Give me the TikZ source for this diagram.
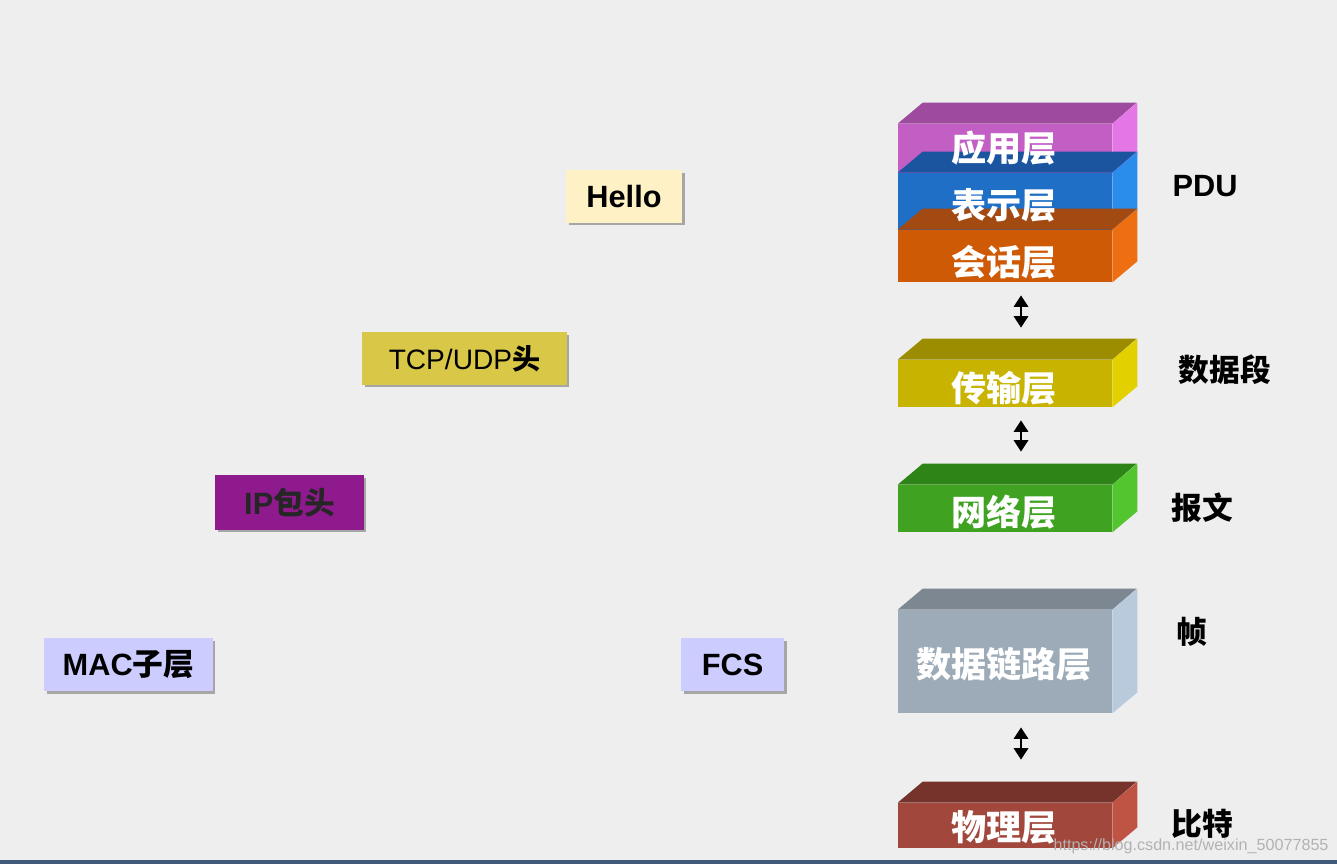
\documentclass[tikz,border=0pt]{standalone}
\usepackage{fontspec}
\setmainfont{Liberation Sans}
\newfontfamily\cjk{Noto Sans CJK SC}
\usetikzlibrary{arrows.meta, shadows}
\definecolor{bggray}{RGB}{238,238,238}
\definecolor{stripblue}{RGB}{64,88,122}
\definecolor{appF}{RGB}{194,94,196}
\definecolor{appT}{RGB}{158,74,158}
\definecolor{appS}{RGB}{228,118,230}
\definecolor{presF}{RGB}{31,111,198}
\definecolor{presT}{RGB}{27,85,160}
\definecolor{presS}{RGB}{42,140,235}
\definecolor{sessF}{RGB}{207,90,5}
\definecolor{sessT}{RGB}{163,74,18}
\definecolor{sessS}{RGB}{238,110,18}
\definecolor{transF}{RGB}{199,179,0}
\definecolor{transT}{RGB}{156,140,0}
\definecolor{transS}{RGB}{226,208,0}
\definecolor{netF}{RGB}{63,163,33}
\definecolor{netT}{RGB}{47,132,24}
\definecolor{netS}{RGB}{82,197,47}
\definecolor{linkF}{RGB}{157,171,184}
\definecolor{linkT}{RGB}{124,135,146}
\definecolor{linkS}{RGB}{184,202,220}
\definecolor{physF}{RGB}{161,71,59}
\definecolor{physT}{RGB}{118,51,43}
\definecolor{physS}{RGB}{191,84,69}
\definecolor{hellofill}{RGB}{255,241,198}
\definecolor{tcpfill}{RGB}{217,200,72}
\definecolor{ipfill}{RGB}{142,26,142}
\definecolor{macfill}{RGB}{204,204,255}
\tikzset{
  face/.style={rectangle, inner sep=0pt, minimum width=4.28cm},
  layertext/.style={text=white, font=\cjk\bfseries\fontsize{20}{24}\selectfont},
  pdulabel/.style={text=black, font=\cjk\bfseries\fontsize{17.5}{20}\selectfont},
  tag/.style={rectangle, inner sep=0pt, minimum height=1.06cm,
    font=\bfseries\fontsize{17.5}{20}\selectfont,
    drop shadow={shadow xshift=0.05cm, shadow yshift=-0.05cm, fill=black, opacity=0.3}},
  updown/.style={{Triangle[width=8pt,length=6.5pt]}-{Triangle[width=8pt,length=6.5pt]},
    line width=1.5pt, black}
}
\begin{document}
\begin{tikzpicture}[x=0.02cm, y=-0.02cm]
  \fill[bggray] (0,0) rectangle (1337,864);
  \fill[stripblue] (0,860) rectangle (1337,864);

  % layer blocks: front face, top face, side face
  \foreach \nm/\cy/\ht in {app/150/52, pres/202/58, sess/256/52,
      trans/383.5/47, net/508.5/47, link/661.5/103, phys/825.5/45}
  {
    \node[face, fill=\nm F, minimum height=\ht*0.02cm] (\nm) at (1005,\cy) {};
    \fill[\nm T] (\nm.north west) -- ++(25,-21) -- ++(214,0) -- (\nm.north east) -- cycle;
    \fill[\nm S] (\nm.north east) -- ++(25,-21) -- ([xshift=0.5cm,yshift=0.42cm]\nm.south east)
      -- (\nm.south east) -- cycle;
  }

  \node[layertext] (appL) at (1004,148) {应用层};
  \node[layertext] (presL) at (1004,205) {表示层};
  \node[layertext] (sessL) at (1004,262) {会话层};
  \node[layertext] (transL) at (1004,388) {传输层};
  \node[layertext] (netL) at (1004,512) {网络层};
  \node[layertext] (linkL) at (1004,664) {数据链路层};
  \node[layertext] (physL) at (1004,827) {物理层};

  \draw[updown] ([xshift=0.32cm,yshift=-0.26cm]sess.south) -- ([xshift=0.32cm,yshift=0.64cm]trans.north);
  \draw[updown] ([xshift=0.32cm,yshift=-0.26cm]trans.south) -- ([xshift=0.32cm,yshift=0.66cm]net.north);
  \draw[updown] ([xshift=0.32cm,yshift=-0.28cm]link.south) -- ([xshift=0.32cm,yshift=0.86cm]phys.north);

  % data units
  \node[pdulabel, font=\bfseries\fontsize{17.5}{20}\selectfont] (pdu) at (1205,186) {PDU};
  \node[pdulabel] (segment) at (1225,370) {数据段};
  \node[pdulabel] (packet) at (1202,508) {报文};
  \node[pdulabel] (frame) at (1192,632) {帧};
  \node[pdulabel] (bits) at (1202,824) {比特};

  % header tags
  \node[tag, fill=hellofill, minimum width=2.32cm] (hello) at (624,196.5) {Hello};
  \node[tag, fill=tcpfill, minimum width=4.1cm, font=\fontsize{16}{20}\selectfont]
    (tcp) at (464.5,358.5) {TCP/UDP{\cjk\bfseries 头}};
  \node[tag, fill=ipfill, minimum width=2.98cm, minimum height=1.1cm, text=black!85]
    (ip) at (289.5,502.5) {IP{\cjk 包头}};
  \node[tag, fill=macfill, minimum width=3.38cm] (mac) at (128.5,664.5) {MAC{\cjk 子层}};
  \node[tag, fill=macfill, minimum width=2.06cm] (fcs) at (732.5,664.5) {FCS};

  \node[text=black!30, font=\fontsize{9.2}{10}\selectfont] (url) at (1191,846)
    {https://blog.csdn.net/weixin\_50077855};
\end{tikzpicture}
\end{document}
